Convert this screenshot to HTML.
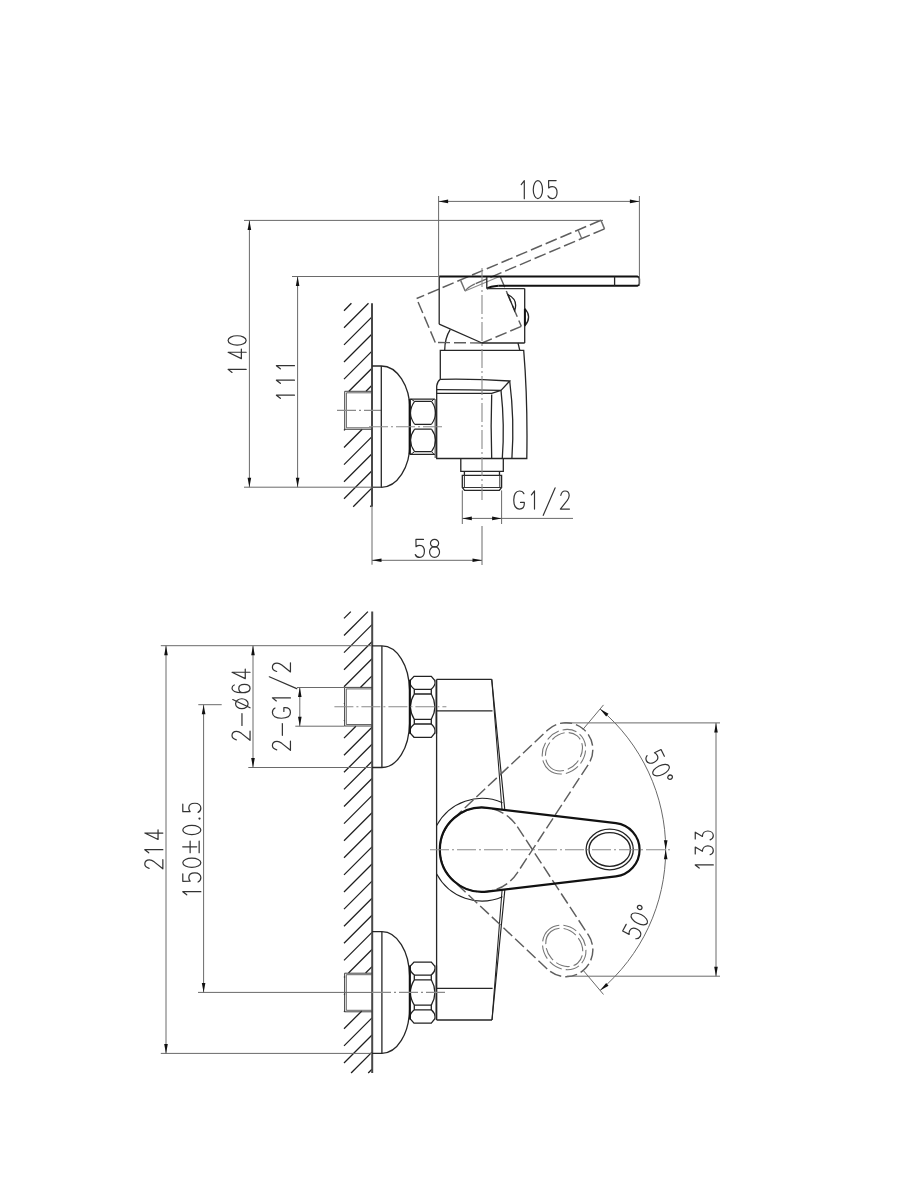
<!DOCTYPE html><html><head><meta charset="utf-8"><style>html,body{margin:0;padding:0;background:#fff;}svg{display:block;}</style></head><body><svg width="900" height="1200" viewBox="0 0 900 1200"><rect width="900" height="1200" fill="#fff"/>
<line x1="344" y1="310.7" x2="351.4" y2="303.3" stroke="#1e1e1e" stroke-width="1.3"/>
<line x1="344" y1="327.8" x2="368.5" y2="303.3" stroke="#1e1e1e" stroke-width="1.3"/>
<line x1="344" y1="344.9" x2="372" y2="316.9" stroke="#1e1e1e" stroke-width="1.3"/>
<line x1="344" y1="362" x2="372" y2="334" stroke="#1e1e1e" stroke-width="1.3"/>
<line x1="344" y1="379.1" x2="372" y2="351.1" stroke="#1e1e1e" stroke-width="1.3"/>
<line x1="348.9" y1="391.3" x2="372" y2="368.2" stroke="#1e1e1e" stroke-width="1.3"/>
<line x1="366" y1="391.3" x2="372" y2="385.3" stroke="#1e1e1e" stroke-width="1.3"/>
<line x1="344" y1="430.4" x2="345.1" y2="429.3" stroke="#1e1e1e" stroke-width="1.3"/>
<line x1="344" y1="447.5" x2="362.2" y2="429.3" stroke="#1e1e1e" stroke-width="1.3"/>
<line x1="344" y1="464.6" x2="372" y2="436.6" stroke="#1e1e1e" stroke-width="1.3"/>
<line x1="344" y1="481.7" x2="372" y2="453.7" stroke="#1e1e1e" stroke-width="1.3"/>
<line x1="344" y1="498.8" x2="372" y2="470.8" stroke="#1e1e1e" stroke-width="1.3"/>
<line x1="353.2" y1="506.7" x2="372" y2="487.9" stroke="#1e1e1e" stroke-width="1.3"/>
<line x1="370.3" y1="506.7" x2="372" y2="505" stroke="#1e1e1e" stroke-width="1.3"/>
<line x1="372" y1="303.3" x2="372" y2="506.7" stroke="#484848" stroke-width="2"/>
<path d="M372,391.3 L344.7,391.3 L344.7,429.3 L372,429.3" stroke="#3a3a3a" stroke-width="0.95" fill="none"/>
<path d="M372,392.8 L346.4,392.8 L346.4,427.8 L372,427.8" stroke="#4a4a4a" stroke-width="0.85" fill="none"/>
<line x1="337" y1="410.4" x2="381" y2="410.4" stroke="#8a8a8a" stroke-width="1.1" fill="none" stroke-dasharray="19,3,2,3"/>
<path d="M372,366 L381.3,366 A28.7,44 0 0 1 410,410 L410,443.3 A28.7,44 0 0 1 381.3,487.3 L372,487.3" stroke="#262626" stroke-width="1.3" fill="none"/>
<line x1="381.3" y1="366" x2="381.3" y2="487.3" stroke="#262626" stroke-width="1.3" fill="none"/>
<line x1="409.75" y1="399.1" x2="409.75" y2="454.3" stroke="#111" stroke-width="2.2"/>
<line x1="435.6" y1="399.1" x2="435.6" y2="458" stroke="#777" stroke-width="2.2"/>
<path d="M409.75,399.1 L434.9,399.1 M409.75,454.3 L434.9,454.3" stroke="#262626" stroke-width="1.3" fill="none"/>
<path d="M414.6,401.4 L431.5,401.4 M414.6,424.3 L431.5,424.3 M414.6,429.1 L431.5,429.1 M414.6,451.6 L431.5,451.6" stroke="#222" stroke-width="1.2" fill="none"/>
<path d="M414.6,401.4 Q406.5,412.85 414.6,424.3 M431.5,401.4 Q439.6,412.85 431.5,424.3 M414.6,429.1 Q406.5,440.35 414.6,451.6 M431.5,429.1 Q439.6,440.35 431.5,451.6" stroke="#222" stroke-width="1.1" fill="none"/>
<path d="M411,399.1 L414.6,401.4 M434,399.1 L431.5,401.4 M411,454.3 L414.6,451.6 M434,454.3 L431.5,451.6" stroke="#222" stroke-width="1" fill="none"/>
<path d="M440.3,350.4 L523.7,350.4 Q527.8,400 526.8,458.5 L436.7,458.5 L436.7,386 Q437.2,381.5 440.3,379.3 Z" stroke="#262626" stroke-width="1.3" fill="none"/>
<path d="M440.3,379.3 Q475,378.6 509.7,381 L501,390.4 Q470,389.6 436.7,389.6" stroke="#262626" stroke-width="1.3" fill="none"/>
<path d="M436.7,393.3 L491.7,393.3 L501,390.4 M491.7,394.5 Q490.6,426 491.7,458.5" stroke="#262626" stroke-width="1.3" fill="none"/>
<path d="M501,390.4 Q504.8,425 502.3,458.5" stroke="#262626" stroke-width="1.3" fill="none"/>
<path d="M509.7,381 Q514.6,420 511.9,458.5" stroke="#262626" stroke-width="1.3" fill="none"/>
<path d="M450.2,329.7 Q444.8,338 444.7,350.4 M518,343 L519.8,350.4" stroke="#262626" stroke-width="1.3" fill="none"/>
<path d="M460.8,458.5 L460.8,471.3 L503.3,471.3 L503.3,458.5" stroke="#262626" stroke-width="1.3" fill="none"/>
<path d="M464.4,471.3 L464.4,475.3 M499.5,471.3 L499.5,475.3" stroke="#262626" stroke-width="1.3" fill="none"/>
<path d="M462.3,475.3 L501.6,475.3 L501.6,487.5 L499.3,490.4 L464.6,490.4 L462.3,487.5 Z" stroke="#262626" stroke-width="1.3" fill="none"/>
<path d="M464.4,475.3 L464.4,487.5 M499.8,475.3 L499.8,487.5 M462.3,487.5 L501.6,487.5" stroke="#333" stroke-width="1" fill="none"/>
<g transform="rotate(-23 482 343)">
<path d="M639.4,276.5 L439.2,276.5" stroke="#5e5e5e" stroke-width="1.45" fill="none" stroke-dasharray="12,4"/>
<path d="M639.4,276.5 L639.4,285.8" stroke="#6e6e6e" stroke-width="1.5" fill="none"/>
<path d="M639.4,285.8 L498.5,285.8" stroke="#5e5e5e" stroke-width="1.45" fill="none" stroke-dasharray="12,4"/>
<path d="M498.5,285.8 Q490,286.4 486.8,288.6" stroke="#6e6e6e" stroke-width="1.4" fill="none"/>
<path d="M486.8,277 L486.8,288.6" stroke="#6e6e6e" stroke-width="1.4" fill="none"/>
<path d="M486.8,288.6 L524.7,288.6" stroke="#8a8a8a" stroke-width="1" fill="none"/>
<path d="M524.7,288.6 L524.7,343" stroke="#5e5e5e" stroke-width="1.45" fill="none" stroke-dasharray="12,4"/>
<path d="M524.7,343 L482,343" stroke="#5e5e5e" stroke-width="1.45" fill="none" stroke-dasharray="12,4"/>
<path d="M482,343 L439.2,324.2" stroke="#5e5e5e" stroke-width="1.45" fill="none" stroke-dasharray="12,4"/>
<path d="M439.2,324.2 L439.2,276.5" stroke="#5e5e5e" stroke-width="1.45" fill="none" stroke-dasharray="12,4"/>
<path d="M614.6,276.5 L614.6,285.8" stroke="#6e6e6e" stroke-width="1.3" fill="none"/>
<path d="M524.7,308.4 Q532.5,317.2 524.7,326 Z" stroke="#222" stroke-width="1.3" fill="none"/>
</g>
<path d="M439.2,276.5 L637.6,276.5" stroke="#111" stroke-width="1.9" fill="none"/>
<path d="M637.6,285.8 L498.5,285.8" stroke="#111" stroke-width="1.9" fill="none"/>
<path d="M498.5,285.8 Q490,286.4 486.8,288.6" stroke="#111" stroke-width="1.9" fill="none"/>
<path d="M637,276.5 Q639.4,276.7 639.4,279 L639.4,283.6 Q639.4,285.8 637,285.8" stroke="#111" stroke-width="1.5" fill="none"/>
<path d="M486.8,277 L486.8,288.6" stroke="#262626" stroke-width="1.3" fill="none"/>
<path d="M524.7,288.6 L524.7,343" stroke="#262626" stroke-width="1.3" fill="none"/>
<path d="M524.7,343 L482,343" stroke="#262626" stroke-width="1.3" fill="none"/>
<path d="M482,343 L439.2,324.2" stroke="#262626" stroke-width="1.3" fill="none"/>
<path d="M439.2,324.2 L439.2,276.5" stroke="#262626" stroke-width="1.3" fill="none"/>
<path d="M614.6,276.5 L614.6,285.8" stroke="#262626" stroke-width="1.3" fill="none"/>
<path d="M486.8,288.6 L524.7,288.6" stroke="#333" stroke-width="1.05" fill="none"/>
<path d="M524.7,308.4 Q532.5,317.2 524.7,326" stroke="#262626" stroke-width="1.3" fill="none"/>
<line x1="524.9" y1="309" x2="524.9" y2="325.5" stroke="#111" stroke-width="2"/>
<line x1="482" y1="268" x2="482" y2="500" stroke="#8a8a8a" stroke-width="1.1" fill="none" stroke-dasharray="19,3,2,3"/>
<line x1="369" y1="426.7" x2="443.5" y2="426.7" stroke="#8a8a8a" stroke-width="1.1" fill="none" stroke-dasharray="19,3,2,3"/>
<line x1="438.6" y1="196" x2="438.6" y2="276.5" stroke="#6a6a6a" stroke-width="1" fill="none"/>
<line x1="639.4" y1="196" x2="639.4" y2="285.6" stroke="#6a6a6a" stroke-width="1" fill="none"/>
<line x1="438.6" y1="201.4" x2="639.4" y2="201.4" stroke="#6a6a6a" stroke-width="1" fill="none"/>
<path d="M438.6,201.4 L448.1,199.6 L448.1,203.2 Z" fill="#111" stroke="none"/>
<path d="M639.4,201.4 L629.9,203.2 L629.9,199.6 Z" fill="#111" stroke="none"/>
<g transform="translate(0,199.2) rotate(0)" stroke="#333" stroke-width="1.3" fill="none" stroke-linecap="round" stroke-linejoin="round"><path transform="translate(524.3,-0.55) scale(0.91,0.94)" d="M-3.4,-15 L0,-19.2 L0,0"/><path transform="translate(533.25,-0.55) scale(0.91,0.94)" d="M5.1,-19.2 A5.1,9.6 0 1 0 5.1,0 A5.1,9.6 0 1 0 5.1,-19.2"/><path transform="translate(547.95,-0.55) scale(0.91,0.94)" d="M9,-19.2 L0.7,-19.2 L0.8,-11.4 C2,-12.4 3.4,-12.8 4.9,-12.8 C8,-12.8 10,-10.2 10,-6.3 C10,-2.4 7.8,0 4.9,0 C2.6,0 0.9,-1.1 0,-3"/></g>
<line x1="244" y1="220.4" x2="603" y2="220.4" stroke="#6a6a6a" stroke-width="1" fill="none"/>
<line x1="292" y1="276.5" x2="438.6" y2="276.5" stroke="#6a6a6a" stroke-width="1" fill="none"/>
<line x1="244" y1="487.2" x2="381.3" y2="487.2" stroke="#6a6a6a" stroke-width="1" fill="none"/>
<line x1="249.4" y1="220.4" x2="249.4" y2="487.2" stroke="#6a6a6a" stroke-width="1" fill="none"/>
<path d="M249.4,220.4 L251.2,229.9 L247.6,229.9 Z" fill="#111" stroke="none"/>
<path d="M249.4,487.2 L247.6,477.7 L251.2,477.7 Z" fill="#111" stroke="none"/>
<line x1="297.6" y1="276.5" x2="297.6" y2="487.2" stroke="#6a6a6a" stroke-width="1" fill="none"/>
<path d="M297.6,276.5 L299.4,286 L295.8,286 Z" fill="#111" stroke="none"/>
<path d="M297.6,487.2 L295.8,477.7 L299.4,477.7 Z" fill="#111" stroke="none"/>
<g transform="translate(246.7,369.4) rotate(-90)" stroke="#333" stroke-width="1.3" fill="none" stroke-linecap="round" stroke-linejoin="round"><path transform="translate(0,-0.55) scale(0.91,0.94)" d="M-3.4,-15 L0,-19.2 L0,0"/><path transform="translate(10.75,-0.55) scale(0.91,0.94)" d="M7,0 L7,-19.2 L0,-5.1 L10.6,-5.1"/><path transform="translate(24.35,-0.55) scale(0.91,0.94)" d="M5.1,-19.2 A5.1,9.6 0 1 0 5.1,0 A5.1,9.6 0 1 0 5.1,-19.2"/></g>
<g transform="translate(295,395.2) rotate(-90)" stroke="#333" stroke-width="1.3" fill="none" stroke-linecap="round" stroke-linejoin="round"><path transform="translate(0,-0.55) scale(0.91,0.94)" d="M-3.4,-15 L0,-19.2 L0,0"/><path transform="translate(15,-0.55) scale(0.91,0.94)" d="M-3.4,-15 L0,-19.2 L0,0"/><path transform="translate(29.5,-0.55) scale(0.91,0.94)" d="M-3.4,-15 L0,-19.2 L0,0"/></g>
<line x1="462.3" y1="490.4" x2="462.3" y2="524" stroke="#6a6a6a" stroke-width="1" fill="none"/>
<line x1="501.6" y1="490.4" x2="501.6" y2="524" stroke="#6a6a6a" stroke-width="1" fill="none"/>
<line x1="462.3" y1="518.4" x2="573" y2="518.4" stroke="#6a6a6a" stroke-width="1" fill="none"/>
<path d="M462.3,518.4 L471.8,516.6 L471.8,520.2 Z" fill="#111" stroke="none"/>
<path d="M501.6,518.4 L492.1,520.2 L492.1,516.6 Z" fill="#111" stroke="none"/>
<g transform="translate(0,509.6) rotate(0)" stroke="#333" stroke-width="1.3" fill="none" stroke-linecap="round" stroke-linejoin="round"><path transform="translate(513.75,-0.55) scale(0.91,0.94)" d="M11.2,-16.4 C10.4,-18.2 8.6,-19.2 6.2,-19.2 C2.4,-19.2 0,-15.5 0,-9.6 C0,-3.6 2.4,0 6.2,0 C9.5,0 11.6,-2.4 11.6,-5.6 L11.6,-7 L7.4,-7"/><path transform="translate(534.5,-0.55) scale(0.91,0.94)" d="M-3.4,-15 L0,-19.2 L0,0"/><path transform="translate(543.25,-0.55) scale(0.91,0.94)" d="M0,6.7 L13,-22.5"/><path transform="translate(560.35,-0.55) scale(0.91,0.94)" d="M0.5,-14.6 C1.1,-17.6 2.9,-19.2 5.1,-19.2 C7.8,-19.2 9.7,-17.2 9.7,-14.3 C9.7,-12.3 8.9,-10.9 7.6,-9.2 L0,0 L10,0"/></g>
<line x1="372" y1="506.7" x2="372" y2="564.7" stroke="#6a6a6a" stroke-width="1" fill="none"/>
<line x1="482" y1="526" x2="482" y2="565" stroke="#6a6a6a" stroke-width="1" fill="none"/>
<line x1="372" y1="560.3" x2="482" y2="560.3" stroke="#6a6a6a" stroke-width="1" fill="none"/>
<path d="M372,560.3 L381.5,558.5 L381.5,562.1 Z" fill="#111" stroke="none"/>
<path d="M482,560.3 L472.5,562.1 L472.5,558.5 Z" fill="#111" stroke="none"/>
<g transform="translate(0,558) rotate(0)" stroke="#333" stroke-width="1.3" fill="none" stroke-linecap="round" stroke-linejoin="round"><path transform="translate(415.3,-0.55) scale(0.91,0.94)" d="M9,-19.2 L0.7,-19.2 L0.8,-11.4 C2,-12.4 3.4,-12.8 4.9,-12.8 C8,-12.8 10,-10.2 10,-6.3 C10,-2.4 7.8,0 4.9,0 C2.6,0 0.9,-1.1 0,-3"/><path transform="translate(429.55,-0.55) scale(0.91,0.94)" d="M5.5,-19.2 A4.5,4.15 0 1 0 5.5,-10.9 A4.5,4.15 0 1 0 5.5,-19.2 M5.5,-11.5 A5.5,5.75 0 1 0 5.5,0 A5.5,5.75 0 1 0 5.5,-11.5"/></g>
<line x1="344" y1="618.4" x2="350.8" y2="611.6" stroke="#1e1e1e" stroke-width="1.3"/>
<line x1="344" y1="635.5" x2="367.9" y2="611.6" stroke="#1e1e1e" stroke-width="1.3"/>
<line x1="344" y1="652.6" x2="372" y2="624.6" stroke="#1e1e1e" stroke-width="1.3"/>
<line x1="344" y1="669.7" x2="372" y2="641.7" stroke="#1e1e1e" stroke-width="1.3"/>
<line x1="344" y1="686.8" x2="372" y2="658.8" stroke="#1e1e1e" stroke-width="1.3"/>
<line x1="344" y1="703.9" x2="344.5" y2="703.4" stroke="#1e1e1e" stroke-width="1.3"/>
<line x1="360.4" y1="687.5" x2="372" y2="675.9" stroke="#1e1e1e" stroke-width="1.3"/>
<line x1="344" y1="721" x2="344.5" y2="720.5" stroke="#1e1e1e" stroke-width="1.3"/>
<line x1="344" y1="738.1" x2="355.9" y2="726.2" stroke="#1e1e1e" stroke-width="1.3"/>
<line x1="344" y1="755.2" x2="372" y2="727.2" stroke="#1e1e1e" stroke-width="1.3"/>
<line x1="344" y1="772.3" x2="372" y2="744.3" stroke="#1e1e1e" stroke-width="1.3"/>
<line x1="344" y1="789.4" x2="372" y2="761.4" stroke="#1e1e1e" stroke-width="1.3"/>
<line x1="344" y1="806.5" x2="372" y2="778.5" stroke="#1e1e1e" stroke-width="1.3"/>
<line x1="344" y1="823.6" x2="372" y2="795.6" stroke="#1e1e1e" stroke-width="1.3"/>
<line x1="344" y1="840.7" x2="372" y2="812.7" stroke="#1e1e1e" stroke-width="1.3"/>
<line x1="344" y1="857.8" x2="372" y2="829.8" stroke="#1e1e1e" stroke-width="1.3"/>
<line x1="344" y1="874.9" x2="372" y2="846.9" stroke="#1e1e1e" stroke-width="1.3"/>
<line x1="344" y1="892" x2="372" y2="864" stroke="#1e1e1e" stroke-width="1.3"/>
<line x1="344" y1="909.1" x2="372" y2="881.1" stroke="#1e1e1e" stroke-width="1.3"/>
<line x1="344" y1="926.2" x2="372" y2="898.2" stroke="#1e1e1e" stroke-width="1.3"/>
<line x1="344" y1="943.3" x2="372" y2="915.3" stroke="#1e1e1e" stroke-width="1.3"/>
<line x1="344" y1="960.4" x2="372" y2="932.4" stroke="#1e1e1e" stroke-width="1.3"/>
<line x1="344" y1="977.5" x2="345" y2="976.5" stroke="#1e1e1e" stroke-width="1.3"/>
<line x1="348.5" y1="973" x2="372" y2="949.5" stroke="#1e1e1e" stroke-width="1.3"/>
<line x1="344" y1="994.6" x2="345" y2="993.6" stroke="#1e1e1e" stroke-width="1.3"/>
<line x1="365.6" y1="973" x2="372" y2="966.6" stroke="#1e1e1e" stroke-width="1.3"/>
<line x1="344" y1="1011.7" x2="345" y2="1010.7" stroke="#1e1e1e" stroke-width="1.3"/>
<line x1="344" y1="1028.8" x2="361.8" y2="1011" stroke="#1e1e1e" stroke-width="1.3"/>
<line x1="344" y1="1045.9" x2="372" y2="1017.9" stroke="#1e1e1e" stroke-width="1.3"/>
<line x1="344" y1="1063" x2="372" y2="1035" stroke="#1e1e1e" stroke-width="1.3"/>
<line x1="351.1" y1="1073" x2="372" y2="1052.1" stroke="#1e1e1e" stroke-width="1.3"/>
<line x1="368.2" y1="1073" x2="372" y2="1069.2" stroke="#1e1e1e" stroke-width="1.3"/>
<line x1="372.2" y1="611.6" x2="372.2" y2="1073" stroke="#484848" stroke-width="2"/>
<path d="M372,645.9 L381.9,645.9 A27.5,44 0 0 1 409.4,689.9 L409.4,723.5 A27.5,44 0 0 1 381.9,767.5 L372,767.5" stroke="#262626" stroke-width="1.3" fill="none"/>
<line x1="381.9" y1="645.9" x2="381.9" y2="767.5" stroke="#262626" stroke-width="1.3" fill="none"/>
<path d="M372,687.4 L344.6,687.4 L344.6,726 L372,726" stroke="#3a3a3a" stroke-width="0.95" fill="none"/>
<path d="M372,688.9 L346.3,688.9 L346.3,724.5 L372,724.5" stroke="#4a4a4a" stroke-width="0.85" fill="none"/>
<path d="M414,676.3 L431.3,676.3 L434.7,680.3 Q436.3,684.7 431.3,689.3 L431.3,694 Q438.5,706.7 431.3,719.3 L431.3,724 Q436.3,728.7 434.7,733.1 L431.3,737.3 L414,737.3 L410.3,733.1 Q408.7,728.7 414.3,724 L414.3,719.3 Q406.5,706.7 414.3,694 L414.3,689.3 Q408.7,684.7 410.3,680.3 Z" stroke="#222" stroke-width="1.3" fill="none"/>
<path d="M414.3,689.3 L431.3,689.3 M414.3,694 L431.3,694 M414.3,719.3 L431.3,719.3 M414.3,724 L431.3,724" stroke="#222" stroke-width="1.3" fill="none"/>
<line x1="410" y1="679.7" x2="410" y2="733.7" stroke="#111" stroke-width="1.8"/>
<line x1="436.2" y1="679.7" x2="436.2" y2="733.7" stroke="#777" stroke-width="2"/>
<path d="M372,931.7 L381.9,931.7 A27.5,44 0 0 1 409.4,975.7 L409.4,1009.3 A27.5,44 0 0 1 381.9,1053.3 L372,1053.3" stroke="#262626" stroke-width="1.3" fill="none"/>
<line x1="381.9" y1="931.7" x2="381.9" y2="1053.3" stroke="#262626" stroke-width="1.3" fill="none"/>
<path d="M372,973.2 L344.6,973.2 L344.6,1011.8 L372,1011.8" stroke="#3a3a3a" stroke-width="0.95" fill="none"/>
<path d="M372,974.7 L346.3,974.7 L346.3,1010.3 L372,1010.3" stroke="#4a4a4a" stroke-width="0.85" fill="none"/>
<path d="M414,962.1 L431.3,962.1 L434.7,966.1 Q436.3,970.5 431.3,975.1 L431.3,979.8 Q438.5,992.5 431.3,1005.1 L431.3,1009.8 Q436.3,1014.5 434.7,1018.9 L431.3,1023.1 L414,1023.1 L410.3,1018.9 Q408.7,1014.5 414.3,1009.8 L414.3,1005.1 Q406.5,992.5 414.3,979.8 L414.3,975.1 Q408.7,970.5 410.3,966.1 Z" stroke="#222" stroke-width="1.3" fill="none"/>
<path d="M414.3,975.1 L431.3,975.1 M414.3,979.8 L431.3,979.8 M414.3,1005.1 L431.3,1005.1 M414.3,1009.8 L431.3,1009.8" stroke="#222" stroke-width="1.3" fill="none"/>
<line x1="410" y1="965.5" x2="410" y2="1019.5" stroke="#111" stroke-width="1.8"/>
<line x1="436.2" y1="965.5" x2="436.2" y2="1019.5" stroke="#777" stroke-width="2"/>
<path d="M436.6,679.4 L436.6,1020" stroke="#262626" stroke-width="1.3" fill="none"/>
<path d="M436.6,679.4 L491.75,679.4 M436.6,710.8 L492.5,710.8 M436.6,988.3 L492.6,988.3 M436.6,1020 L492,1020" stroke="#262626" stroke-width="1.3" fill="none"/>
<path d="M491.75,679.4 L508.8,849.7 L492,1020" stroke="#222" stroke-width="1.15" fill="none"/>
<path d="M491.75,679.4 L505.2,849.7 L492,1020" stroke="#222" stroke-width="1.05" fill="none"/>
<path d="M436.7,825.5 A51.3,51.3 0 0 1 502.5,802.7 M436.7,873.9 A51.3,51.3 0 0 0 502.5,896.7" stroke="#222" stroke-width="1.05" fill="none"/>
<path d="M486.97,807.79 L615.96,823.09 A26.8,26.8 0 0 1 615.96,876.31 L486.97,891.61 A42.2,42.2 0 1 1 486.97,807.79 Z" stroke="none" fill="#fff"/>
<g transform="rotate(-50 482 849.7)">
<path d="M486.97,807.79 L615.96,823.09 A26.8,26.8 0 0 1 615.96,876.31 L486.97,891.61 A42.2,42.2 0 1 1 486.97,807.79 Z" stroke="#5e5e5e" stroke-width="1.45" fill="none" stroke-dasharray="12,4"/>
<path d="M586.1,849.5 A23.6,20.3 0 1 0 633.3000000000001,849.5 A23.6,20.3 0 1 0 586.1,849.5 M589.0,849.5 A20.7,16.8 0 1 0 630.4000000000001,849.5 A20.7,16.8 0 1 0 589.0,849.5" stroke="#777" stroke-width="1.1" fill="none" stroke-dasharray="14,4"/>
</g>
<g transform="rotate(50 482 849.7)">
<path d="M486.97,807.79 L615.96,823.09 A26.8,26.8 0 0 1 615.96,876.31 L486.97,891.61 A42.2,42.2 0 1 1 486.97,807.79 Z" stroke="#5e5e5e" stroke-width="1.45" fill="none" stroke-dasharray="12,4"/>
<path d="M586.1,849.5 A23.6,20.3 0 1 0 633.3000000000001,849.5 A23.6,20.3 0 1 0 586.1,849.5 M589.0,849.5 A20.7,16.8 0 1 0 630.4000000000001,849.5 A20.7,16.8 0 1 0 589.0,849.5" stroke="#777" stroke-width="1.1" fill="none" stroke-dasharray="14,4"/>
</g>
<path d="M486.97,807.79 L615.96,823.09 A26.8,26.8 0 0 1 615.96,876.31 L486.97,891.61 A42.2,42.2 0 1 1 486.97,807.79 Z" stroke="#111" stroke-width="2.2" fill="none"/>
<path d="M586.1,849.5 A23.6,20.3 0 1 0 633.3000000000001,849.5 A23.6,20.3 0 1 0 586.1,849.5 M589.0,849.5 A20.7,16.8 0 1 0 630.4000000000001,849.5 A20.7,16.8 0 1 0 589.0,849.5" stroke="#222" stroke-width="1.3" fill="none"/>
<line x1="430" y1="849.7" x2="671" y2="849.7" stroke="#8a8a8a" stroke-width="1.1" fill="none" stroke-dasharray="19,3,2,3"/>
<path d="M600.08,708.98 A183.7,183.7 0 0 1 600.08,990.42" stroke="#6a6a6a" stroke-width="1" fill="none"/>
<line x1="582.92" y1="969.97" x2="603.49" y2="994.48" stroke="#6a6a6a" stroke-width="1" fill="none"/>
<path d="M600.08,990.42 L606.2,982.94 L608.51,985.69 Z" fill="#111" stroke="none"/>
<line x1="582.92" y1="729.43" x2="603.49" y2="704.92" stroke="#6a6a6a" stroke-width="1" fill="none"/>
<path d="M600.08,708.98 L608.51,713.71 L606.2,716.46 Z" fill="#111" stroke="none"/>
<path d="M665.7,849.7 L663.9,840.2 L667.5,840.2 Z" fill="#111" stroke="none"/>
<path d="M665.7,849.7 L667.5,859.2 L663.9,859.2 Z" fill="#111" stroke="none"/>
<line x1="564.4" y1="722.9" x2="720" y2="722.9" stroke="#6a6a6a" stroke-width="1" fill="none"/>
<line x1="566.7" y1="976.2" x2="720" y2="976.2" stroke="#6a6a6a" stroke-width="1" fill="none"/>
<line x1="716" y1="722.9" x2="716" y2="976.2" stroke="#6a6a6a" stroke-width="1" fill="none"/>
<path d="M716,722.9 L717.8,732.4 L714.2,732.4 Z" fill="#111" stroke="none"/>
<path d="M716,976.2 L714.2,966.7 L717.8,966.7 Z" fill="#111" stroke="none"/>
<g transform="translate(713.85,864.95) rotate(-90)" stroke="#333" stroke-width="1.3" fill="none" stroke-linecap="round" stroke-linejoin="round"><path transform="translate(0,-0.55) scale(0.91,0.94)" d="M-3.4,-15 L0,-19.2 L0,0"/><path transform="translate(10.2,-0.55) scale(0.91,0.94)" d="M0.9,-19.2 L8.4,-19.2 L3.8,-11.6 C7.4,-11.6 9.7,-9.1 9.7,-5.8 C9.7,-2.3 7.4,0 4.5,0 C2.5,0 0.9,-1.2 0,-3.4"/><path transform="translate(25.1,-0.55) scale(0.91,0.94)" d="M0.9,-19.2 L8.4,-19.2 L3.8,-11.6 C7.4,-11.6 9.7,-9.1 9.7,-5.8 C9.7,-2.3 7.4,0 4.5,0 C2.5,0 0.9,-1.2 0,-3.4"/></g>
<g transform="translate(643.8,756.6) rotate(64)" stroke="#333" stroke-width="1.3" fill="none" stroke-linecap="round" stroke-linejoin="round"><path transform="translate(0.55,-0.55) scale(0.91,0.94)" d="M9,-19.2 L0.7,-19.2 L0.8,-11.4 C2,-12.4 3.4,-12.8 4.9,-12.8 C8,-12.8 10,-10.2 10,-6.3 C10,-2.4 7.8,0 4.9,0 C2.6,0 0.9,-1.1 0,-3"/><path transform="translate(15.05,-0.55) scale(0.91,0.94)" d="M5.1,-19.2 A5.1,9.6 0 1 0 5.1,0 A5.1,9.6 0 1 0 5.1,-19.2"/><path transform="translate(30,0)" d="M0,-17 A2.1,2.4 0 1 0 0.01,-17"/></g>
<g transform="translate(638.5,940.8) rotate(-62)" stroke="#333" stroke-width="1.3" fill="none" stroke-linecap="round" stroke-linejoin="round"><path transform="translate(0.55,-0.55) scale(0.91,0.94)" d="M9,-19.2 L0.7,-19.2 L0.8,-11.4 C2,-12.4 3.4,-12.8 4.9,-12.8 C8,-12.8 10,-10.2 10,-6.3 C10,-2.4 7.8,0 4.9,0 C2.6,0 0.9,-1.1 0,-3"/><path transform="translate(15.05,-0.55) scale(0.91,0.94)" d="M5.1,-19.2 A5.1,9.6 0 1 0 5.1,0 A5.1,9.6 0 1 0 5.1,-19.2"/><path transform="translate(30,0)" d="M0,-17 A2.1,2.4 0 1 0 0.01,-17"/></g>
<line x1="160.8" y1="645.7" x2="372" y2="645.7" stroke="#6a6a6a" stroke-width="1" fill="none"/>
<line x1="160.8" y1="1053.4" x2="372" y2="1053.4" stroke="#6a6a6a" stroke-width="1" fill="none"/>
<line x1="166" y1="645.7" x2="166" y2="1053.4" stroke="#6a6a6a" stroke-width="1" fill="none"/>
<path d="M166,645.7 L167.8,655.2 L164.2,655.2 Z" fill="#111" stroke="none"/>
<path d="M166,1053.4 L164.2,1043.9 L167.8,1043.9 Z" fill="#111" stroke="none"/>
<g transform="translate(163.4,869.3) rotate(-90)" stroke="#333" stroke-width="1.3" fill="none" stroke-linecap="round" stroke-linejoin="round"><path transform="translate(0.55,-0.55) scale(0.91,0.94)" d="M0.5,-14.6 C1.1,-17.6 2.9,-19.2 5.1,-19.2 C7.8,-19.2 9.7,-17.2 9.7,-14.3 C9.7,-12.3 8.9,-10.9 7.6,-9.2 L0,0 L10,0"/><path transform="translate(19.6,-0.55) scale(0.91,0.94)" d="M-3.4,-15 L0,-19.2 L0,0"/><path transform="translate(29.85,-0.55) scale(0.91,0.94)" d="M7,0 L7,-19.2 L0,-5.1 L10.6,-5.1"/></g>
<line x1="248.3" y1="767.5" x2="372" y2="767.5" stroke="#6a6a6a" stroke-width="1" fill="none"/>
<line x1="253" y1="645.7" x2="253" y2="767.5" stroke="#6a6a6a" stroke-width="1" fill="none"/>
<path d="M253,645.7 L254.8,655.2 L251.2,655.2 Z" fill="#111" stroke="none"/>
<path d="M253,767.5 L251.2,758 L254.8,758 Z" fill="#111" stroke="none"/>
<g transform="translate(250.6,740.8) rotate(-90)" stroke="#333" stroke-width="1.3" fill="none" stroke-linecap="round" stroke-linejoin="round"><path transform="translate(0.55,-0.55) scale(0.91,0.94)" d="M0.5,-14.6 C1.1,-17.6 2.9,-19.2 5.1,-19.2 C7.8,-19.2 9.7,-17.2 9.7,-14.3 C9.7,-12.3 8.9,-10.9 7.6,-9.2 L0,0 L10,0"/><path transform="translate(15.75,-0.55) scale(0.91,0.94)" d="M-0.5,-8.6 L12.5,-8.6"/><path transform="translate(32.15,-0.55) scale(0.91,0.94)" d="M5.45,-15.4 A5.45,6.65 0 1 0 5.45,-2.1 A5.45,6.65 0 1 0 5.45,-15.4 M0.9,0 L10,-18.4"/><path transform="translate(48.05,-0.55) scale(0.91,0.94)" d="M8.6,-16.8 C7.9,-18.5 6.6,-19.2 5,-19.2 C1.9,-19.2 0,-15.6 0,-9.2 C0,-3.2 1.9,0 4.8,0 C7.4,0 9.2,-2.4 9.2,-6 C9.2,-9.6 7.4,-12 4.8,-12 C2.5,-12 0.7,-10.4 0.1,-8"/><path transform="translate(62.15,-0.55) scale(0.91,0.94)" d="M7,0 L7,-19.2 L0,-5.1 L10.6,-5.1"/></g>
<line x1="198.3" y1="704.7" x2="221.7" y2="704.7" stroke="#6a6a6a" stroke-width="1" fill="none"/>
<line x1="198" y1="992.4" x2="372" y2="992.4" stroke="#6a6a6a" stroke-width="1" fill="none"/>
<line x1="203.6" y1="704.7" x2="203.6" y2="992.4" stroke="#6a6a6a" stroke-width="1" fill="none"/>
<path d="M203.6,704.7 L205.4,714.2 L201.8,714.2 Z" fill="#111" stroke="none"/>
<path d="M203.6,992.4 L201.8,982.9 L205.4,982.9 Z" fill="#111" stroke="none"/>
<g transform="translate(201.4,895.6) rotate(-90)" stroke="#333" stroke-width="1.3" fill="none" stroke-linecap="round" stroke-linejoin="round"><path transform="translate(3.9,-0.55) scale(0.91,0.94)" d="M-3.4,-15 L0,-19.2 L0,0"/><path transform="translate(13.65,-0.55) scale(0.91,0.94)" d="M9,-19.2 L0.7,-19.2 L0.8,-11.4 C2,-12.4 3.4,-12.8 4.9,-12.8 C8,-12.8 10,-10.2 10,-6.3 C10,-2.4 7.8,0 4.9,0 C2.6,0 0.9,-1.1 0,-3"/><path transform="translate(28.15,-0.55) scale(0.91,0.94)" d="M5.1,-19.2 A5.1,9.6 0 1 0 5.1,0 A5.1,9.6 0 1 0 5.1,-19.2"/><path transform="translate(42.95,-0.55) scale(0.91,0.94)" d="M0,-11.4 L12.7,-11.4 M6.35,-19.3 L6.35,-4.4 M0,-1.8 L12.7,-1.8"/><path transform="translate(60.95,-0.55) scale(0.91,0.94)" d="M5.1,-19.2 A5.1,9.6 0 1 0 5.1,0 A5.1,9.6 0 1 0 5.1,-19.2"/><path transform="translate(77,0)" d="M-0.5,-1.9 A0.5,0.5 0 1 0 0.5,-1.9 A0.5,0.5 0 1 0 -0.5,-1.9"/><path transform="translate(83.25,-0.55) scale(0.91,0.94)" d="M9,-19.2 L0.7,-19.2 L0.8,-11.4 C2,-12.4 3.4,-12.8 4.9,-12.8 C8,-12.8 10,-10.2 10,-6.3 C10,-2.4 7.8,0 4.9,0 C2.6,0 0.9,-1.1 0,-3"/></g>
<line x1="297" y1="687.5" x2="344.6" y2="687.5" stroke="#6a6a6a" stroke-width="1" fill="none"/>
<line x1="295.3" y1="726.2" x2="344.6" y2="726.2" stroke="#6a6a6a" stroke-width="1" fill="none"/>
<line x1="299.8" y1="687.5" x2="299.8" y2="726.2" stroke="#6a6a6a" stroke-width="1" fill="none"/>
<path d="M299.8,687.5 L301.6,697 L298,697 Z" fill="#111" stroke="none"/>
<path d="M299.8,726.2 L298,716.7 L301.6,716.7 Z" fill="#111" stroke="none"/>
<g transform="translate(291,750.8) rotate(-90)" stroke="#333" stroke-width="1.3" fill="none" stroke-linecap="round" stroke-linejoin="round"><path transform="translate(0.55,-0.55) scale(0.91,0.94)" d="M0.5,-14.6 C1.1,-17.6 2.9,-19.2 5.1,-19.2 C7.8,-19.2 9.7,-17.2 9.7,-14.3 C9.7,-12.3 8.9,-10.9 7.6,-9.2 L0,0 L10,0"/><path transform="translate(15.95,-0.55) scale(0.91,0.94)" d="M-0.5,-8.6 L12.5,-8.6"/><path transform="translate(32.55,-0.55) scale(0.91,0.94)" d="M11.2,-16.4 C10.4,-18.2 8.6,-19.2 6.2,-19.2 C2.4,-19.2 0,-15.5 0,-9.6 C0,-3.6 2.4,0 6.2,0 C9.5,0 11.6,-2.4 11.6,-5.6 L11.6,-7 L7.4,-7"/><path transform="translate(52.9,-0.55) scale(0.91,0.94)" d="M-3.4,-15 L0,-19.2 L0,0"/><path transform="translate(62.15,-0.55) scale(0.91,0.94)" d="M0,6.7 L13,-22.5"/><path transform="translate(78.85,-0.55) scale(0.91,0.94)" d="M0.5,-14.6 C1.1,-17.6 2.9,-19.2 5.1,-19.2 C7.8,-19.2 9.7,-17.2 9.7,-14.3 C9.7,-12.3 8.9,-10.9 7.6,-9.2 L0,0 L10,0"/></g>
<line x1="334.4" y1="706.7" x2="446.4" y2="706.7" stroke="#8a8a8a" stroke-width="1.1" fill="none" stroke-dasharray="19,3,2,3"/>
<line x1="372" y1="992.4" x2="446.4" y2="992.4" stroke="#8a8a8a" stroke-width="1.1" fill="none" stroke-dasharray="19,3,2,3"/></svg></body></html>
